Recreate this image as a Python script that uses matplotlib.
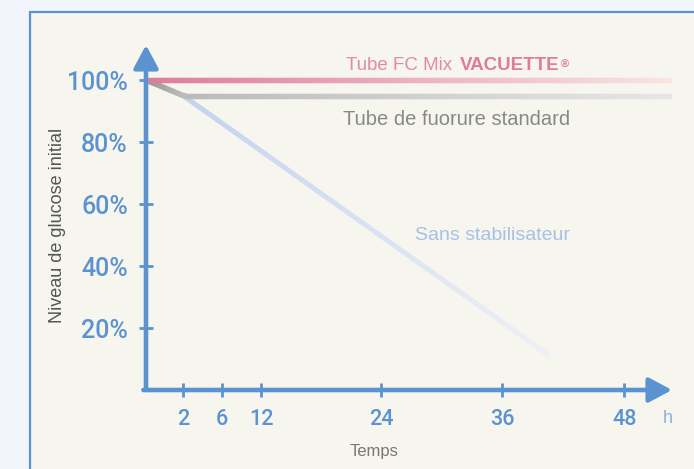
import matplotlib
matplotlib.use("Agg")
import matplotlib.pyplot as plt
import numpy as np
from matplotlib.collections import LineCollection
from matplotlib.patches import Rectangle
from matplotlib.colors import LinearSegmentedColormap

plt.rcParams['font.family'] = ['Liberation Sans', 'DejaVu Sans']

# data
x_ticks = [2, 6, 12, 24, 36, 48]
y_ticks = [20, 40, 60, 80, 100]
y_ticklabels = ["20%", "40%", "60%", "80%", "100%"]

vac_h = [0, 52.7]
vac_y = [100, 100]
std_h = [0, 2, 52.7]
std_y = [100, 95, 95]
sans_h = [2, 40.7]
sans_y = [95, 11]

# the time axis is not linear: anchors of hours -> drawing position
anchor_h = [0, 2, 6, 12, 24, 36, 48, 60]
anchor_p = [0, 37, 76, 115, 235, 356, 478, 600]

def fwd(h):
    return np.interp(h, anchor_h, anchor_p)

def inv(p):
    return np.interp(p, anchor_p, anchor_h)

blue = "#5b93d0"

fig = plt.figure(figsize=(6.94, 4.69), dpi=100)
fig.patch.set_facecolor("#f2f5fb")
fig.patches.append(Rectangle((30 / 694, -0.05), 1.0, (469 - 12) / 469 + 0.05,
                             transform=fig.transFigure, facecolor="#f6f5ee",
                             edgecolor=blue, lw=1.6, zorder=-5))

ax = fig.add_axes([146 / 694, (469 - 390) / 469, (672 - 146) / 694, (390 - 45) / 469])
ax.set_facecolor("none")
ax.set_zorder(2)
ax.set_xscale("function", functions=(fwd, inv))
ax.set_xlim(0, 52.7)
ax.set_ylim(0, 111.3)
for s in ax.spines.values():
    s.set_visible(False)


def gradient_line(hs, ys, c0, c1, lw, n=150):
    # sample along the polyline so the colour can fade left to right
    pts_h, pts_y = [], []
    for i in range(len(hs) - 1):
        t = np.linspace(0, 1, n, endpoint=False)
        p0, p1 = fwd(hs[i]), fwd(hs[i + 1])
        pts_h.append(inv(p0 + (p1 - p0) * t))
        pts_y.append(ys[i] + (ys[i + 1] - ys[i]) * t)
    pts_h.append([hs[-1]])
    pts_y.append([ys[-1]])
    ph = np.concatenate(pts_h)
    py = np.concatenate(pts_y)
    # overlapping pieces (i -> i+2) so no seams show between them
    segs = [np.column_stack([ph[i:i + 3], py[i:i + 3]]) for i in range(len(ph) - 2)]
    cmap = LinearSegmentedColormap.from_list("g", [c0, c1])
    lc = LineCollection(segs, colors=cmap(np.linspace(0, 1, len(segs))),
                        linewidths=lw, capstyle="butt", joinstyle="miter", zorder=3)
    ax.add_collection(lc)


gradient_line(sans_h, sans_y, "#c3d3ef", "#eef0f6", 3.3)
gradient_line(std_h, std_y, "#8f8f8f", "#e6e6e6", 3.8)
gradient_line(vac_h, vac_y, "#e07b9c", "#f8e4e2", 3.8)

# axes with arrows
ax.annotate("", xy=(0, 1.0), xytext=(0, 0), xycoords="axes fraction",
            arrowprops=dict(arrowstyle="-|>,head_length=1.4,head_width=0.75",
                            lw=3.3, color=blue, shrinkA=0, shrinkB=0), zorder=5)
ax.annotate("", xy=(1.0, 0), xytext=(-0.005, 0), xycoords="axes fraction",
            arrowprops=dict(arrowstyle="-|>,head_length=1.4,head_width=0.75",
                            lw=3.3, color=blue, shrinkA=0, shrinkB=0), zorder=5)

ax.set_xticks(x_ticks)
ax.set_xticklabels([str(v) for v in x_ticks])
ax.set_yticks(y_ticks)
ax.set_yticklabels(y_ticklabels)
ax.tick_params(axis="x", direction="inout", length=10, width=2, color=blue,
               labelcolor=blue, labelsize=15.5, pad=9)
ax.tick_params(axis="y", direction="inout", length=10, width=2, color=blue,
               labelcolor=blue, labelsize=18, pad=8)
for lab in ax.get_xticklabels() + ax.get_yticklabels():
    lab.set_family(["Roboto", "DejaVu Sans"])
    lab.set_fontweight("medium")
ax.minorticks_off()

ax.text(52.3, -9.3, "h", fontsize=13, color="#8db0dc", ha="center",
        va="center", clip_on=False)

fig.text(374 / 694, 1 - 451 / 469, "Temps", fontsize=12, color="#777777",
         ha="center", va="center")
fig.text(57 / 694, 1 - 225 / 469, "Niveau de glucose initial", fontsize=13,
         color="#555555", ha="center", va="center", rotation=90)

# line labels
t1 = ax.text(20.5, 101.8, "Tube FC Mix ", fontsize=13.5, color="#e28aa6",
             ha="left", va="bottom")
t2 = ax.annotate("VACUETTE", xy=(1, 0), xycoords=t1, xytext=(2, 0),
                 textcoords="offset points", fontsize=13.5, fontweight="bold",
                 color="#e07b9c", ha="left", va="bottom")
ax.annotate("®", xy=(1, 1), xycoords=t2, xytext=(1, -2),
            textcoords="offset points", fontsize=8, fontweight="bold",
            color="#e07b9c", ha="left", va="top")
ax.text(42.7, 87.2, "Tube de fuorure standard", fontsize=14.5, color="#888888",
        ha="right", va="center")
ax.text(42.7, 50, "Sans stabilisateur", fontsize=14, color="#a8c0e7",
        ha="right", va="center")

fig.savefig("out.png", dpi=100, facecolor=fig.get_facecolor())
